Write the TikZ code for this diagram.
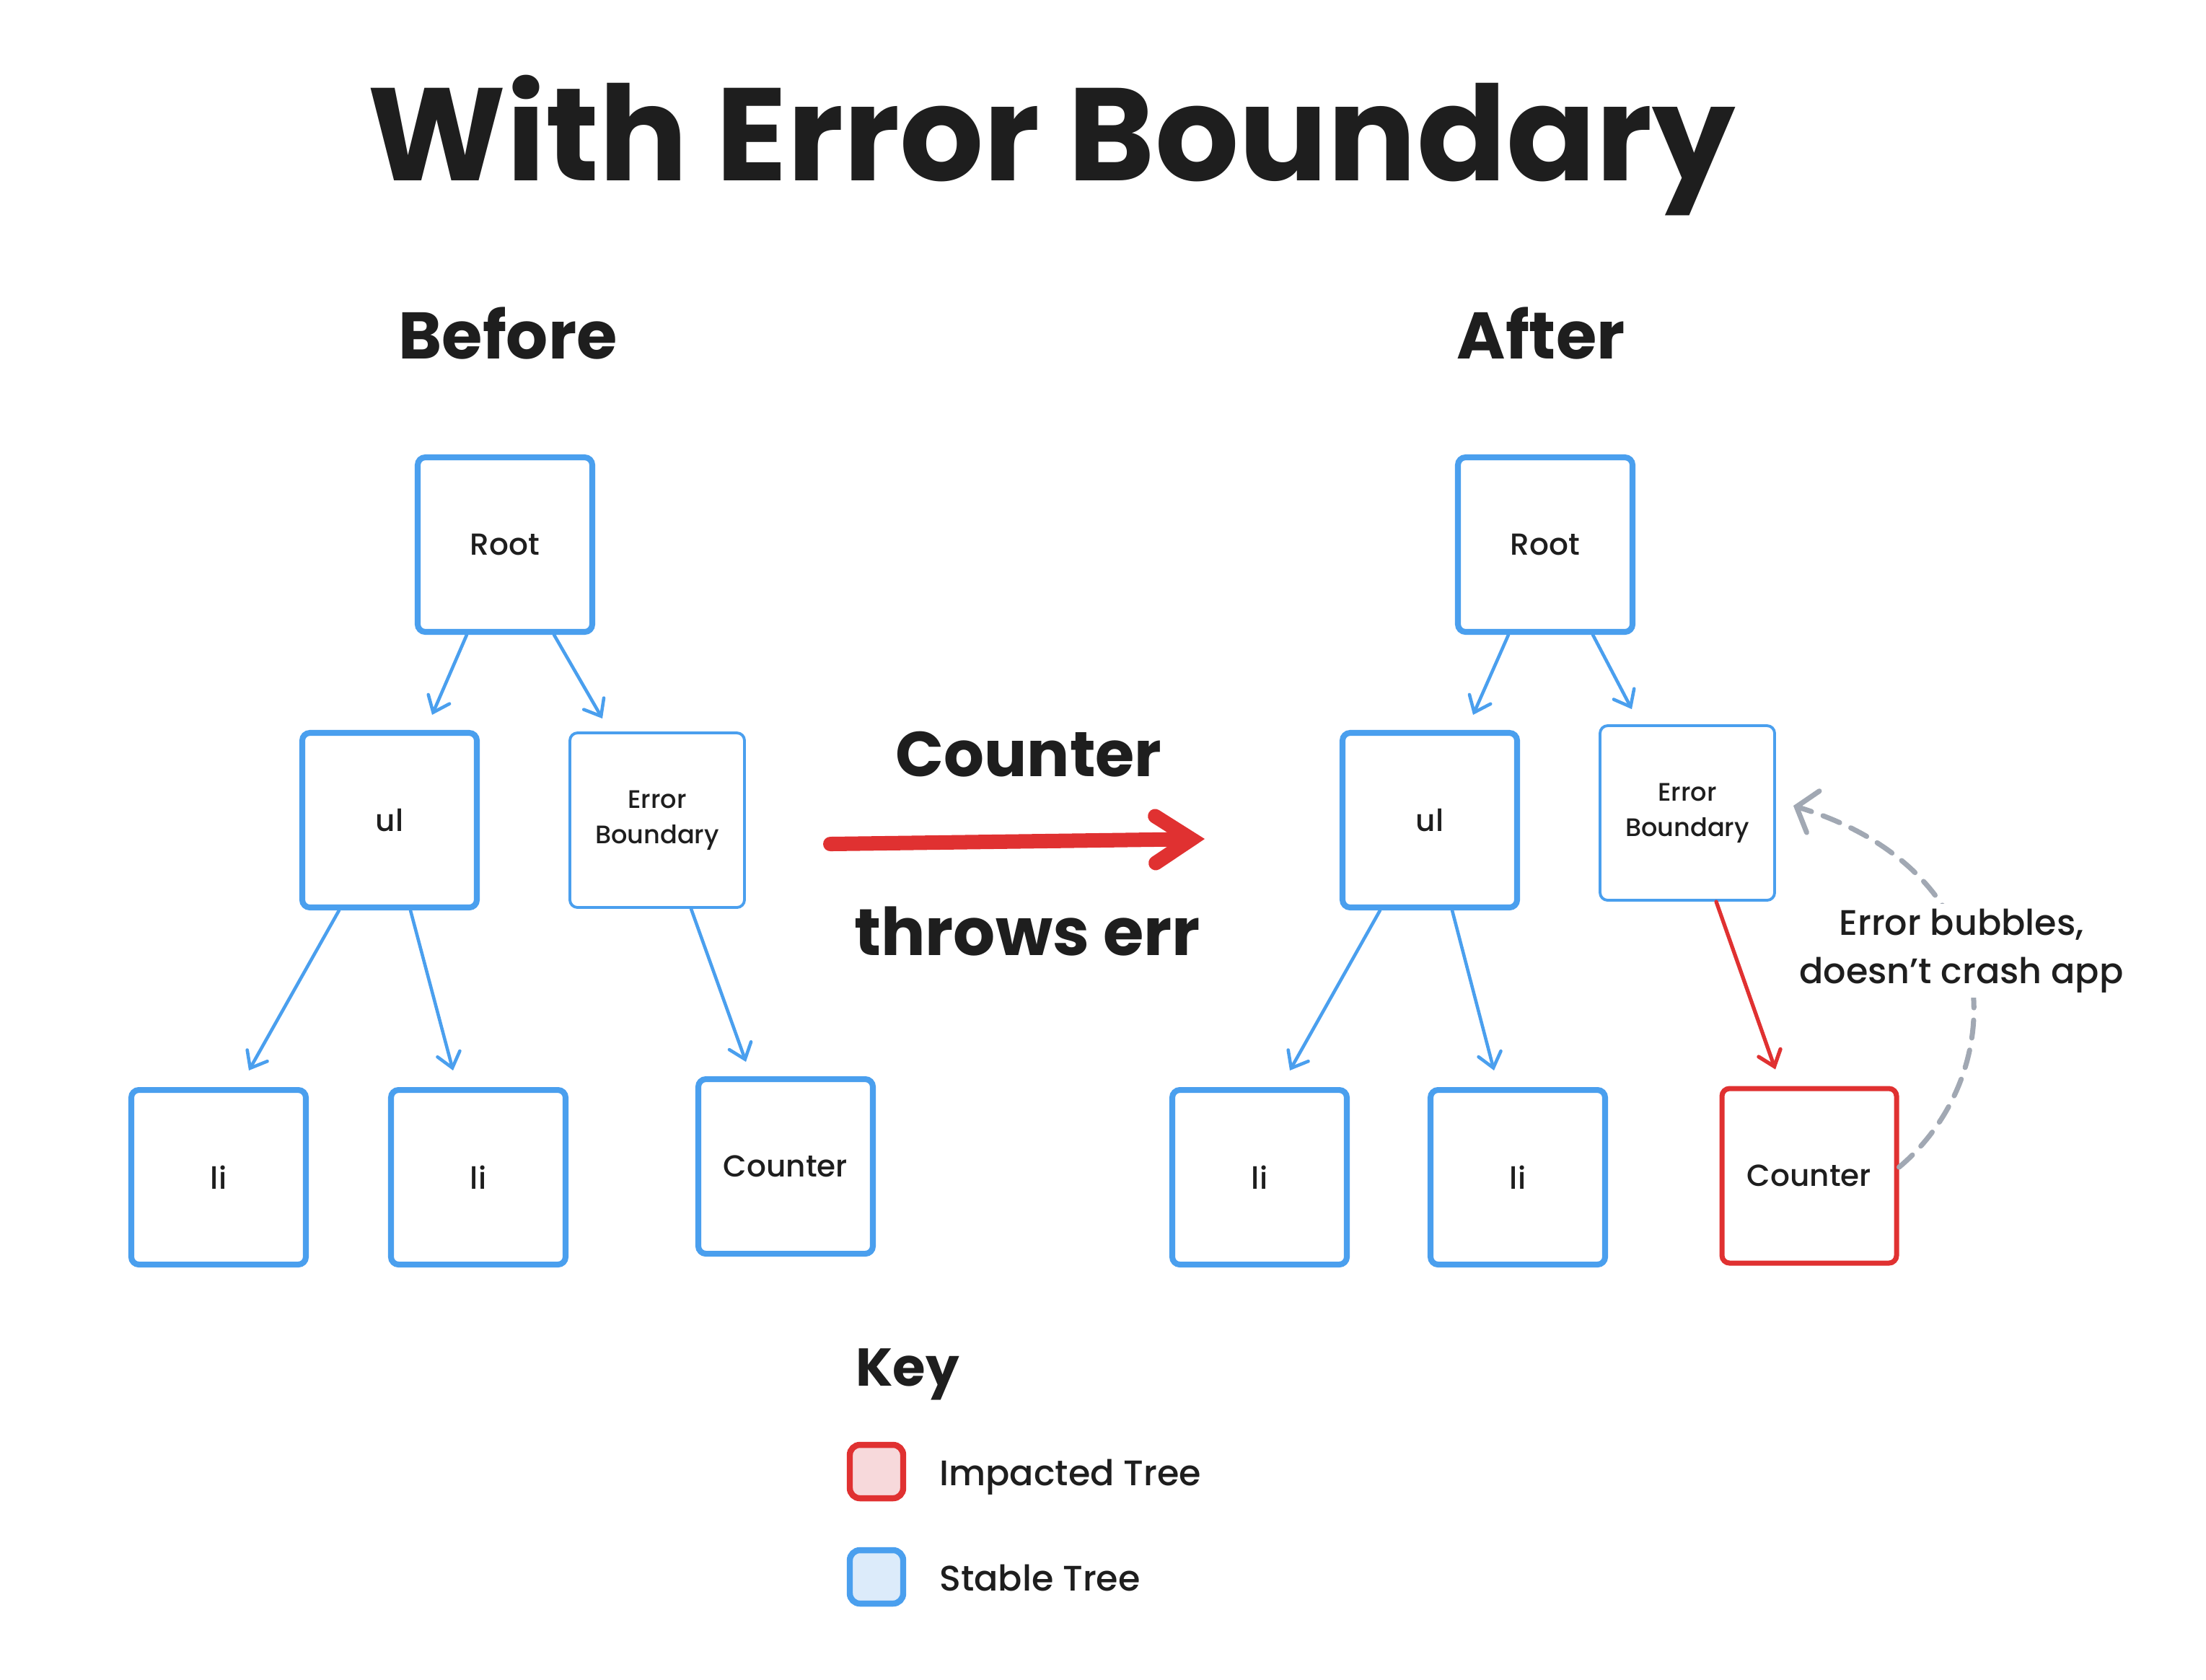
\documentclass[tikz,border=0pt]{standalone}
\usepackage{fontspec}
\setmainfont{Poppins}
\newfontfamily\medfont{Poppins Medium}[Ligatures=TeX]
\usetikzlibrary{arrows.meta}
\definecolor{stableblue}{HTML}{4A9FEE}
\definecolor{stablefill}{HTML}{DCEBFA}
\definecolor{hurtred}{HTML}{E03131}
\definecolor{hurtfill}{HTML}{F7D9DB}
\definecolor{bubblegray}{HTML}{A1A8B3}
\definecolor{ink}{HTML}{1E1E1E}
\newcommand{\boxsz}{2.42cm}
\newcommand{\keysz}{0.74cm}

\begin{document}
\begin{tikzpicture}[
	every node/.style={text=ink},
	treebox/.style={draw=stableblue, line width=2.3pt, rounded corners=3pt, fill=white,
		minimum size=\boxsz, inner sep=0pt, font=\medfont\fontsize{12}{14}\selectfont},
	thinbox/.style={treebox, line width=1.1pt, align=center, font=\medfont\fontsize{10}{14}\selectfont},
	hurtbox/.style={treebox, draw=hurtred, line width=2pt},
	keybox/.style={line width=2.4pt, rounded corners=4pt, minimum size=\keysz, inner sep=0pt},
	heading/.style={font=\bfseries\fontsize{26}{30}\selectfont},
	keytext/.style={font=\medfont\fontsize{14}{17}\selectfont},
	treearrow/.style={draw=stableblue, line width=1.3pt, line cap=round,
		-{Straight Barb[length=2mm,width=3.2mm,line cap=round]}},
	hurtarrow/.style={treearrow, draw=hurtred, line width=1.5pt},
	throwarrow/.style={draw=hurtred, line width=5.7pt, line cap=round,
		-{Straight Barb[length=5mm,width=6.5mm,line cap=round]}},
	bubblearrow/.style={draw=bubblegray, line width=2pt, line cap=round,
		dash pattern=on 0.25cm off 0.17cm,
		-{Straight Barb[length=2.4mm,width=6mm,line cap=round]}}
	]

		\fill[white] (0,0) rectangle (30.58,-23.28);
		\useasboundingbox (0,0) rectangle (30.58,-23.28);

		% Headings
		\node[font=\bfseries\fontsize{52}{62}\selectfont, anchor=base] (title) at (14.58,-2.50) {With Error Boundary};
		\node[heading, anchor=base] (before) at (7.04,-4.97) {Before};
		\node[heading, anchor=base] (after) at (21.36,-4.97) {After};

		% Before
		\node[treebox] (root0) at (7.00,-7.55) {Root};
		\node[treebox] (ul0) at (5.40,-11.37) {ul};
		\node[thinbox] (eb0) at (9.11,-11.37) {Error\\Boundary};
		\node[treebox] (li1) at (3.03,-16.32) {li};
		\node[treebox] (li2) at (6.63,-16.32) {li};
		\node[treebox] (cnt0) at (10.89,-16.17) {Counter};
		\draw[treearrow] ([xshift=-0.53cm]root0.south) -- ([xshift=0.59cm,yshift=0.21cm]ul0.north);
		\draw[treearrow] ([xshift=0.68cm]root0.south) -- ([xshift=-0.76cm,yshift=0.18cm]eb0.north);
		\draw[treearrow] ([xshift=-0.70cm]ul0.south) -- ([xshift=0.42cm,yshift=0.23cm]li1.north);
		\draw[treearrow] ([xshift=0.29cm]ul0.south) -- ([xshift=-0.35cm,yshift=0.23cm]li2.north);
		\draw[treearrow] ([xshift=0.47cm]eb0.south) -- ([xshift=-0.55cm,yshift=0.20cm]cnt0.north);

		% Throw
		\node[heading, font=\bfseries\fontsize{25}{30}\selectfont, anchor=base] (cntlabel) at (14.26,-10.76) {Counter};
		\node[heading, anchor=base] (throwlabel) at (14.24,-13.24) {throws err};
		\coordinate (throwfrom) at (11.51,-11.70);
		\coordinate (throwto) at (16.70,-11.63);
		\draw[throwarrow] (throwfrom) -- (throwto);

		% After
		\node[treebox] (root1) at (21.42,-7.55) {Root};
		\node[treebox] (ul1) at (19.82,-11.37) {ul};
		\node[thinbox] (eb1) at (23.39,-11.27) {Error\\Boundary};
		\node[treebox] (li3) at (17.46,-16.32) {li};
		\node[treebox] (li4) at (21.04,-16.32) {li};
		\node[hurtbox] (cnt1) at (25.08,-16.30) {Counter};
		\draw[treearrow] ([xshift=-0.51cm]root1.south) -- ([xshift=0.60cm,yshift=0.21cm]ul1.north);
		\draw[treearrow] ([xshift=0.66cm]root1.south) -- ([xshift=-0.77cm,yshift=0.21cm]eb1.north);
		\draw[treearrow] ([xshift=-0.69cm]ul1.south) -- ([xshift=0.42cm,yshift=0.23cm]li3.north);
		\draw[treearrow] ([xshift=0.31cm]ul1.south) -- ([xshift=-0.33cm,yshift=0.23cm]li4.north);
		\draw[hurtarrow] ([xshift=0.40cm]eb1.south) -- ([xshift=-0.47cm,yshift=0.23cm]cnt1.north);
		% bubbling up
		\draw[bubblearrow] ([yshift=0.12cm]cnt1.east) .. controls +(1.55,1.30) and +(3.04,-0.93) .. ([xshift=0.24cm,yshift=0.10cm]eb1.east);
		\node[fill=white, inner sep=2pt, align=center, font=\medfont\fontsize{14}{19}\selectfont] (bubble) at (27.19,-13.18) {Error bubbles,\\doesn’t crash app};

		% Key
		\node[font=\bfseries\fontsize{21}{25}\selectfont, anchor=base west] (key) at (11.74,-19.21) {Key};
		\node[keybox, draw=hurtred, fill=hurtfill] (keyhurt) at (12.15,-20.40) {};
		\node[keybox, draw=stableblue, fill=stablefill] (keystable) at (12.15,-21.86) {};
		\node[keytext, anchor=base west] (hurttext) at (12.90,-20.59) {Impacted Tree};
		\node[keytext, anchor=base west] (stabletext) at (12.90,-22.05) {Stable Tree};
	\end{tikzpicture}
\end{document}
